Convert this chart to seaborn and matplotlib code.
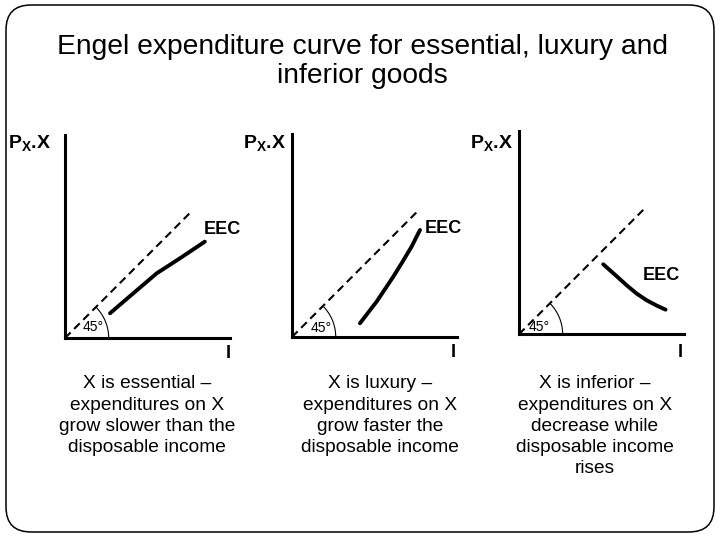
import matplotlib.pyplot as plt
import seaborn as sns
from matplotlib.patches import Arc, FancyBboxPatch

sns.set_style("white")
plt.rcParams['font.family'] = ['Liberation Sans', 'DejaVu Sans']
plt.rcParams['text.color'] = 'black'
plt.rcParams['mathtext.fontset'] = 'custom'
plt.rcParams['mathtext.bf'] = 'Liberation Sans:bold'
plt.rcParams['mathtext.rm'] = 'Liberation Sans'
plt.rcParams['mathtext.it'] = 'Liberation Sans:italic'

#%% data
title = "Engel expenditure curve for essential, luxury and\ninferior goods"
captions = [
    "X is essential –\nexpenditures on X\ngrow slower than the\ndisposable income",
    "X is luxury –\nexpenditures on X\ngrow faster the\ndisposable income",
    "X is inferior –\nexpenditures on X\ndecrease while\ndisposable income\nrises",
]
y_label = r'$\mathbf{P_X}$.X'
x_label = 'I'
curve_label = 'EEC'
angle_label = '45°'

# 45 degree line (income = expenditure)
diag_x = [0, 7.6]
diag_y = [0, 7.6]

# Engel expenditure curves
ess_x = [2.73, 4.14, 5.56, 6.97, 8.48]
ess_y = [1.50, 2.71, 3.92, 4.83, 5.84]
lux_x = [4.12, 5.13, 6.14, 6.65, 7.25, 7.76]
lux_y = [0.83, 2.14, 3.65, 4.47, 5.47, 6.48]
inf_x = [5.11, 5.92, 6.53, 7.13, 7.74, 8.35, 8.89]
inf_y = [4.24, 3.52, 2.97, 2.47, 2.06, 1.74, 1.49]

curves = [(ess_x, ess_y), (lux_x, lux_y), (inf_x, inf_y)]

#%% layout
fig = plt.figure(figsize=(7.2, 5.4), dpi=100)

frame = FancyBboxPatch((0.06, 0.08), 7.08, 5.27,
                       boxstyle="round,pad=0,rounding_size=0.25",
                       transform=fig.dpi_scale_trans, fill=False,
                       edgecolor='black', linewidth=1.1)
fig.patches.append(frame)

fig.text(0.503, 0.887, title, ha='center', va='center', fontsize=20.3,
         family=['Liberation Sans Narrow', 'Liberation Sans', 'DejaVu Sans'],
         linespacing=1.15)

ax_pos = [(0.0903, 0.374), (0.4056, 0.376), (0.7208, 0.381)]
ylab_pos = [(-3.45, 11.8), (-2.97, 11.76), (-2.97, 11.58)]
eec_pos = [(8.42, 6.6), (8.06, 6.6), (7.5, 3.58)]
i_pos = [(9.88, -0.91), (9.76, -0.97), (9.76, -1.09)]
ang_pos = [(1.7, 0.67), (1.76, 0.55), (1.2, 0.45)]
cap_x = [0.204, 0.528, 0.826]

for k, (cx, cy) in enumerate(curves):
    ax = fig.add_axes([ax_pos[k][0], ax_pos[k][1], 0.229, 0.376])
    sns.lineplot(x=diag_x, y=diag_y, ax=ax, color='black', linewidth=1.5,
                 linestyle=(0, (3.8, 2.4)))
    sns.lineplot(x=cx, y=cy, ax=ax, color='black', linewidth=2.8, sort=False)
    ax.set_xlim(0, 10)
    ax.set_ylim(0, 12.3)
    ax.set_xticks([])
    ax.set_yticks([])
    ax.set_xlabel('')
    ax.set_ylabel('')
    ax.set_facecolor('none')
    sns.despine(ax=ax)
    for s in ['left', 'bottom']:
        ax.spines[s].set_linewidth(2.2)
        ax.spines[s].set_color('black')

    ax.add_patch(Arc((0, 0), 5.3, 5.3, theta1=0, theta2=45,
                     color='black', linewidth=0.8))
    ax.text(*ang_pos[k], angle_label, ha='center', va='center', fontsize=10)
    ax.text(*ylab_pos[k], y_label, ha='left', va='center', fontsize=14,
            fontweight='bold', clip_on=False)
    ax.text(*eec_pos[k], curve_label, ha='left', va='center', fontsize=13,
            fontweight='bold')
    ax.text(*i_pos[k], x_label, ha='center', va='center', fontsize=13,
            fontweight='bold', clip_on=False)

    fig.text(cap_x[k], 0.305, captions[k], ha='center', va='top',
             fontsize=13.8, linespacing=1.33)

fig.savefig('out.png', dpi=100)
